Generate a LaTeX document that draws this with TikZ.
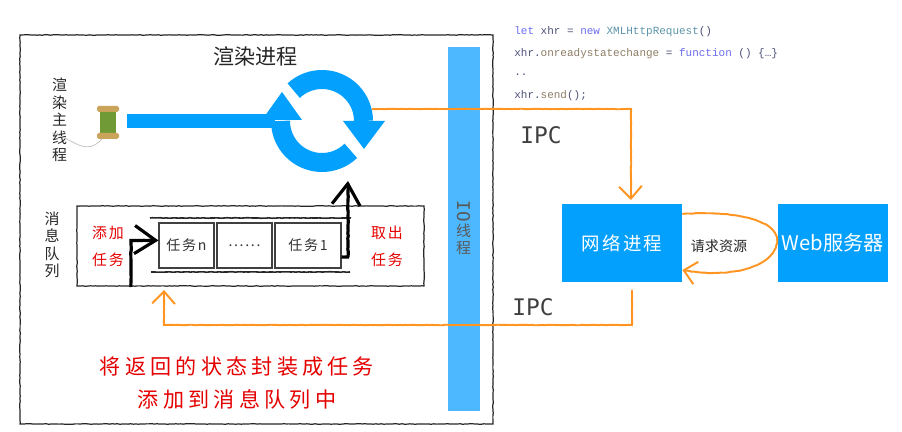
\documentclass[tikz,border=0pt]{standalone}
\usepackage{fontspec}
\usepackage{tikz}
\usetikzlibrary{arrows.meta,decorations.pathmorphing}
\newfontfamily\cjk{Noto Sans CJK SC}
\newfontfamily\cjkwide[LetterSpace=20]{Noto Sans CJK SC}
\newfontfamily\cjkmid[LetterSpace=12]{Noto Sans CJK SC}
\setmonofont{Liberation Mono}
\newfontfamily\ipcfont{DejaVu Sans Mono}
\definecolor{procblue}{HTML}{03A0FE}
\definecolor{iobarblue}{HTML}{4DB8FF}
\definecolor{ipcorange}{HTML}{FF9420}
\definecolor{kwblue}{HTML}{6A6CF0}
\definecolor{typeteal}{HTML}{5B93A8}
\definecolor{varslate}{HTML}{4C5078}
\definecolor{propbrown}{HTML}{8C7C64}
\definecolor{spoolwood}{HTML}{CBA45C}
\definecolor{spoolgreen}{HTML}{6F9A35}
\begin{document}
\begin{tikzpicture}[
		rough/.style={decorate,decoration={random steps,segment length=1.5pt,amplitude=0.15pt}},
		box_style/.style={draw=black!85,line width=0.7pt,rough},
		blue_box/.style={fill=procblue,text=white,inner sep=0pt},
		side_label/.style={font=\cjk\fontsize{8.5}{10}\selectfont,text=black!85,align=center,inner sep=0pt},
		red_label/.style={font=\cjkmid\fontsize{8.5}{10}\selectfont,text=red!90!black,inner sep=0pt},
		red_note/.style={font=\cjkwide\fontsize{12}{14}\selectfont,text=red!90!black,inner sep=0pt},
		task_style/.style={draw=black!75,line width=0.6pt,minimum height=0.90cm,inner sep=0pt,font=\cjkmid\fontsize{8}{10}\selectfont,text=black!80},
		code_line/.style={font=\ttfamily\fontsize{6.25}{8}\selectfont,text=varslate,anchor=west,inner sep=0pt},
		ipc_label/.style={font=\ipcfont\fontsize{13}{15}\selectfont,text=black!75,inner sep=0pt},
		ipc_edge/.style={draw=ipcorange,line width=1.1pt,rough,-{Straight Barb[length=7pt,width=13pt,line width=1.1pt]}},
		hand_edge/.style={draw=black,line width=1.8pt,rough,-{Straight Barb[length=12pt,width=16pt,line width=1.8pt]}},
		loop_arc/.style={draw=procblue,line width=0.38cm},
		]
		\useasboundingbox (0,0) rectangle (18.04,8.64);
		
		% render process frame and io thread
		\node[box_style,minimum width=9.46cm,minimum height=7.78cm,inner sep=0pt] (render) at (5.13,4.05) {};
		\node[font=\cjk\fontsize{12}{14}\selectfont,text=black!85,inner sep=0pt] (render_title) at (5.11,7.52) {渲染进程};
		\node[fill=iobarblue,minimum width=0.64cm,minimum height=7.28cm,inner sep=0pt] (io_bar) at (9.28,4.06) {};
		\node[font=\cjk\fontsize{8.5}{10}\selectfont,text=black!65,align=center,inner sep=0pt] (io_label) at (9.27,4.08) {\rotatebox{-90}{\ipcfont\fontsize{10}{10}\selectfont IO}\\线\\程};
		
		% main thread with spool
		\node[side_label] (main_label) at (1.19,6.24) {渲\\染\\主\\线\\程};
		\draw[black!25,line width=0.4pt] (2.04,5.86) .. controls (1.7,5.5) and (1.5,5.85) .. (1.04,5.98);
		\fill[spoolgreen] (2.0,5.98) rectangle (2.32,6.50);
		\fill[spoolwood,rounded corners=1pt] (1.94,6.40) rectangle (2.38,6.52);
		\fill[spoolwood,rounded corners=1pt] (1.94,5.86) rectangle (2.38,5.98);
		
		% event loop
		\fill[procblue] (2.54,6.08) rectangle (5.5,6.36);
		\draw[loop_arc] (6.44,6.22) ++(133:0.83) arc (133:0:0.83);
		\draw[loop_arc] (6.44,6.22) ++(-46:0.83) arc (-46:-180:0.83);
		\fill[procblue] (6.86,6.22) -- (7.70,6.22) -- (7.28,5.66) -- cycle;
		\fill[procblue] (5.24,6.24) -- (6.04,6.24) -- (5.64,6.80) -- cycle;
		\coordinate (loop_out) at (7.44,6.46);
		
		% message queue
		\node[side_label] (queue_label) at (1.04,3.74) {消\\息\\队\\列};
		\node[box_style,minimum width=6.94cm,minimum height=1.60cm,inner sep=0pt] (queue) at (5.01,3.72) {};
		\draw[box_style,line width=0.9pt] (3.0,4.28) -- (7.02,4.28);
		\draw[box_style,line width=0.9pt] (3.02,3.20) -- (7.0,3.20);
		\node[task_style,minimum width=1.10cm] (task_n) at (3.73,3.73) {任务n};
		\node[task_style,minimum width=1.10cm] (task_dots) at (4.89,3.73) {......};
		\node[task_style,minimum width=1.32cm] (task_one) at (6.16,3.73) {任务1};
		\node[red_label] (add_a) at (2.16,3.98) {添加};
		\node[red_label] (add_b) at (2.16,3.44) {任务};
		\node[red_label] (take_a) at (7.74,3.98) {取出};
		\node[red_label] (take_b) at (7.74,3.44) {任务};
		\coordinate (hand_in) at (2.62,2.90);
		\coordinate (hand_top) at (6.96,5.02);
		\draw[hand_edge] (hand_in) |- ([yshift=0.1cm]task_n.west);
		\draw[hand_edge] ([yshift=-0.23cm]task_one.east) -- ++(0.15,0) -| (hand_top);
		
		% ipc out of the render process
		\node[blue_box,minimum width=2.40cm,minimum height=1.56cm,font=\cjkmid\fontsize{10.5}{12}\selectfont] (net_proc) at (12.44,3.78) {网络进程};
		\node[blue_box,minimum width=2.20cm,minimum height=1.56cm,font=\cjk\fontsize{11.5}{13}\selectfont] (web_srv) at (16.66,3.78) {Web服务器};
		\coordinate (net_in) at (12.62,4.64);
		\coordinate (net_out) at (12.64,2.84);
		\coordinate (queue_in) at (3.28,2.84);
		\draw[ipc_edge] (loop_out) -| (net_in);
		\draw[ipc_edge] (net_out) -- ++(0,-0.70) -| (queue_in);
		\node[ipc_label] (ipc_top) at (10.82,5.93) {IPC};
		\node[ipc_label] (ipc_bottom) at (10.66,2.50) {IPC};
		
		% request between network process and server
		\draw[ipc_edge] ([yshift=0.58cm]net_proc.east) .. controls (14.8,4.44) and (15.54,4.2) .. (15.54,3.84) .. controls (15.54,3.3) and (14.6,3.06) .. ([yshift=-0.54cm]net_proc.east);
		\node[font=\cjk\fontsize{8}{10}\selectfont,text=black!85,inner sep=0pt] (fetch_label) at (14.38,3.72) {请求资源};
		
		% xhr snippet
		\node[code_line] (code_a) at (10.28,8.00) {\textcolor{kwblue}{let} xhr = \textcolor{kwblue}{new} \textcolor{typeteal}{XMLHttpRequest}()};
		\node[code_line] (code_b) at (10.28,7.56) {xhr.\textcolor{propbrown}{onreadystatechange} = \textcolor{kwblue}{function} () \{…\}};
		\node[code_line] (code_c) at (10.28,7.14) {..};
		\node[code_line] (code_d) at (10.28,6.72) {xhr.\textcolor{propbrown}{send}();};
		
		% note at the bottom
		\node[red_note] (note_a) at (4.74,1.30) {将返回的状态封装成任务};
		\node[red_note] (note_b) at (4.74,0.66) {添加到消息队列中};
\end{tikzpicture}
\end{document}
